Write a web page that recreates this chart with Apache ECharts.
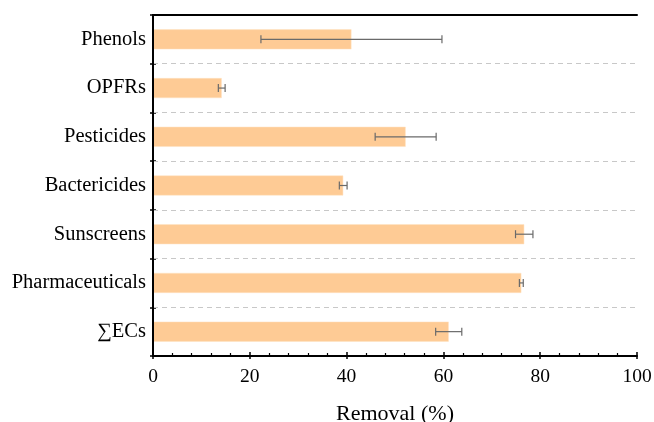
<!DOCTYPE html>
<html><head><meta charset="utf-8">
<script src="https://cdn.jsdelivr.net/npm/echarts@6/dist/echarts.min.js"></script>
<style>html,body{margin:0;padding:0;background:#fff}#c{width:654px;height:422px}</style>
</head><body><div id="c"></div>
<script>
const categories = ["Phenols","OPFRs","Pesticides","Bactericides","Sunscreens","Pharmaceuticals","\u2211ECs"];
const removal = [41.0, 14.2, 52.2, 39.3, 76.7, 76.1, 61.1];
const errors = [18.7, 0.7, 6.3, 0.8, 1.8, 0.4, 2.7];
const xTicks = [0, 20, 40, 60, 80, 100];

const font = "'Liberation Serif','Times New Roman',serif";
const chart = echarts.init(document.getElementById('c'));
const errData = categories.map((c, i) => [i, removal[i] - errors[i], removal[i] + errors[i]]);
const frameLine = {show: true, lineStyle: {color: '#000', width: 2}};

chart.setOption({
  animation: false,
  grid: {left: 153, right: 17, top: 15, bottom: 66, outerBoundsMode: 'none', containLabel: false},
  xAxis: [{
    type: 'value', min: xTicks[0], max: xTicks[xTicks.length-1], interval: 20,
    name: 'Removal (%)', nameLocation: 'middle', nameGap: 47,
    nameTextStyle: {fontFamily: font, fontSize: 22, color: '#000'},
    axisLine: frameLine,
    axisTick: {show: true, inside: true, length: 4, lineStyle: {color: '#000', width: 1.5}},
    minorTick: {show: true, splitNumber: 5, length: 3, lineStyle: {color: '#000', width: 1.2}},
    axisLabel: {fontFamily: font, fontSize: 19.5, color: '#000', margin: 11},
    splitLine: {show: false}, z: 10
  }, {
    type: 'value', min: 0, max: 100, interval: 20, position: 'bottom', offset: 0,
    axisLine: {show: false}, axisLabel: {show: false},
    axisTick: {show: true, inside: false, length: 3, lineStyle: {color: '#000', width: 1.5}},
    splitLine: {show: false}
  }, {
    type: 'value', min: 0, max: 100, position: 'top', offset: 0,
    axisLine: frameLine, axisLabel: {show: false}, axisTick: {show: false},
    splitLine: {show: false}, z: 10
  }],
  yAxis: [{
    type: 'category', data: categories, inverse: true,
    axisLine: frameLine,
    axisTick: {show: true, inside: false, length: 3, lineStyle: {color: '#000', width: 1.5}},
    axisLabel: {fontFamily: font, fontSize: 20.5, color: '#000', margin: 7},
    splitLine: {show: true, lineStyle: {color: '#c8c8c8', type: [5, 4], width: 1}}, z: 10
  }, {
    type: 'category', data: categories, inverse: true, position: 'left', offset: 0,
    axisLine: {show: false}, axisLabel: {show: false},
    axisTick: {show: true, inside: true, length: 3, lineStyle: {color: '#000', width: 1.5}},
    splitLine: {show: false}
  }, {
    type: 'category', data: categories, inverse: true, position: 'right', offset: 0,
    axisLine: frameLine, axisLabel: {show: false}, axisTick: {show: false},
    splitLine: {show: false}, z: 10
  }],
  series: [{
    type: 'bar', data: removal, barWidth: 20,
    itemStyle: {color: '#fecb95', borderColor: '#ffe2c2', borderWidth: 0.5},
    z: 2
  }, {
    type: 'custom', data: errData, z: 3,
    renderItem: function (params, api) {
      const y = api.coord([0, api.value(0)])[1];
      const x1 = api.coord([api.value(1), api.value(0)])[0];
      const x2 = api.coord([api.value(2), api.value(0)])[0];
      const h = 4;
      const st = {stroke: '#6a6a6a', lineWidth: 1.2};
      return {type: 'group', children: [
        {type: 'line', shape: {x1: x1, y1: y, x2: x2, y2: y}, style: st},
        {type: 'line', shape: {x1: x1, y1: y - h, x2: x1, y2: y + h}, style: st},
        {type: 'line', shape: {x1: x2, y1: y - h, x2: x2, y2: y + h}, style: st}
      ]};
    },
    encode: {x: [1, 2], y: 0}
  }]
});
</script></body></html>
